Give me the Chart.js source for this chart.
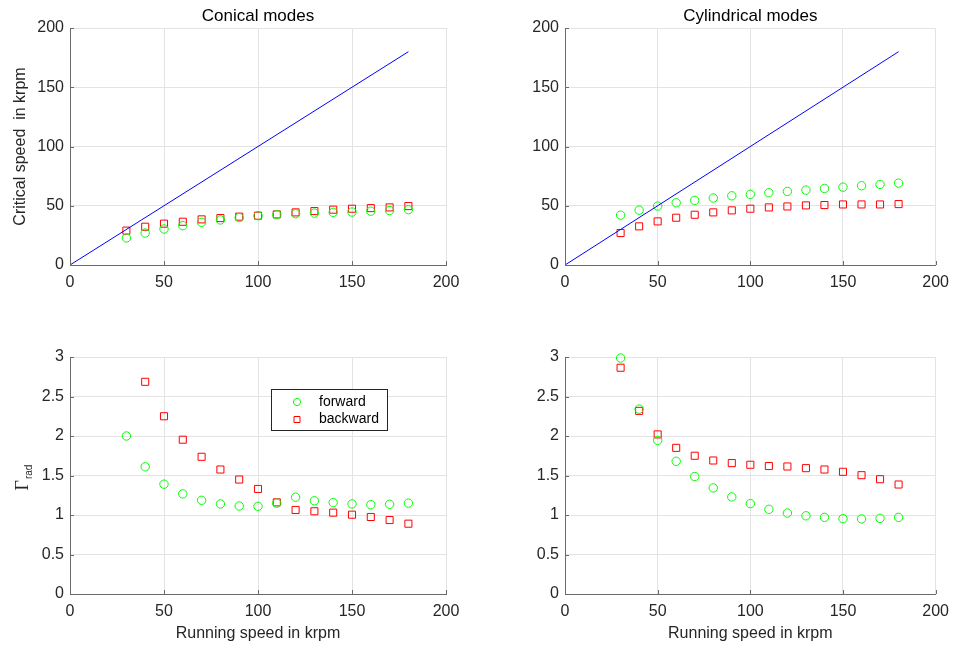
<!DOCTYPE html>
<html>
<head>
<meta charset="utf-8">
<script src="https://cdn.jsdelivr.net/npm/chart.js@4/dist/chart.umd.min.js"></script>
<style>
  body { margin: 0; background: #fff; width: 957px; height: 646px; overflow: hidden; position: relative; }
  canvas { position: absolute; }
</style>
</head>
<body>
<canvas id="conicalSpeed" width="478" height="323" style="left:0;top:0"></canvas>
<canvas id="cylSpeed" width="479" height="323" style="left:478px;top:0"></canvas>
<canvas id="conicalGamma" width="478" height="323" style="left:0;top:323px"></canvas>
<canvas id="cylGamma" width="479" height="323" style="left:478px;top:323px"></canvas>
<script>
// running speeds (krpm)
var speeds = [30, 40, 50, 60, 70, 80, 90, 100, 110, 120, 130, 140, 150, 160, 170, 180];

// critical speeds, krpm
var conicalForward  = [22.8, 27.0, 30.4, 33.2, 36.0, 38.0, 40.0, 41.6, 42.4, 43.3, 43.8, 44.4, 44.7, 45.4, 46.0, 46.7];
var conicalBackward = [29.0, 32.3, 34.9, 36.5, 38.5, 39.6, 40.8, 41.6, 42.7, 44.4, 45.5, 46.7, 47.5, 48.0, 48.6, 49.7];
var cylForward  = [42.1, 46.3, 49.7, 52.5, 54.5, 56.5, 58.4, 59.6, 61.0, 62.1, 63.2, 64.6, 65.7, 66.9, 68.0, 69.1];
var cylBackward = [27.0, 32.6, 36.8, 39.9, 42.4, 44.4, 46.1, 47.5, 48.6, 49.4, 50.3, 50.6, 51.1, 51.1, 51.1, 51.4];

// Gamma_rad
var gammaConicalForward  = [2.0, 1.61, 1.39, 1.267, 1.186, 1.14, 1.114, 1.11, 1.15, 1.225, 1.18, 1.157, 1.14, 1.13, 1.136, 1.15];
var gammaConicalBackward = [null, 2.686, 2.25, 1.953, 1.737, 1.576, 1.449, 1.33, 1.16, 1.064, 1.047, 1.03, 1.004, 0.975, 0.936, 0.89];
var gammaCylForward  = [2.987, 2.34, 1.945, 1.68, 1.487, 1.343, 1.229, 1.144, 1.072, 1.025, 0.99, 0.97, 0.953, 0.95, 0.958, 0.97];
var gammaCylBackward = [2.864, 2.318, 2.02, 1.85, 1.75, 1.69, 1.657, 1.636, 1.62, 1.614, 1.593, 1.576, 1.547, 1.504, 1.453, 1.386];

// synchronous line (running speed = critical speed)
var syncX = [0, 180];
var syncY = [0, 180];

// tick values
var xTicks = [0, 50, 100, 150, 200];
var speedTicks = [0, 50, 100, 150, 200];
var gammaTicks = [0, 0.5, 1, 1.5, 2, 2.5, 3];

var textColor = '#262626';
var axisColor = '#6a6a6a';
var gridColor = '#e3e3e3';
var fontFamily = '"Liberation Sans", Arial, Helvetica, sans-serif';
Chart.defaults.font.family = fontFamily;
Chart.defaults.color = textColor;

function toPoints(xs, ys) {
  return xs.map(function (x, i) { return { x: x, y: ys[i] }; }).filter(function (p) { return p.y != null; });
}

function forwardSet(ys) {
  return { label: 'forward', data: toPoints(speeds, ys), pointStyle: 'circle', pointRadius: 4.2,
    borderColor: '#00ff00', backgroundColor: 'rgba(0,0,0,0)', borderWidth: 1, showLine: false, clip: false };
}
function backwardSet(ys) {
  return { label: 'backward', data: toPoints(speeds, ys), pointStyle: 'rect', pointRadius: 5,
    borderColor: '#ff0000', backgroundColor: 'rgba(0,0,0,0)', borderWidth: 1, showLine: false, clip: false };
}
function syncSet() {
  return { label: 'sync', data: toPoints(syncX, syncY), showLine: true, borderColor: '#0000ff',
    borderWidth: 1, pointRadius: 0, fill: false };
}

// titles, inward ticks, Gamma label and legend
var frame = {
  id: 'frame',
  afterDraw: function (chart) {
    var o = chart.options.plugins.frame;
    var ctx = chart.ctx, area = chart.chartArea;
    var xs = chart.scales.x, ys = chart.scales.y;
    ctx.save();
    ctx.strokeStyle = axisColor;
    ctx.lineWidth = 1;
    ctx.beginPath();
    xs.ticks.forEach(function (t) {
      var px = Math.round(xs.getPixelForValue(t.value)) + 0.5;
      ctx.moveTo(px, area.bottom); ctx.lineTo(px, area.bottom - 4);
    });
    ys.ticks.forEach(function (t) {
      var py = Math.round(ys.getPixelForValue(t.value)) + 0.5;
      ctx.moveTo(area.left, py); ctx.lineTo(area.left + 4, py);
    });
    ctx.stroke();

    ctx.fillStyle = '#000';
    if (o.title) {
      ctx.font = '17px ' + fontFamily;
      ctx.textAlign = 'center';
      ctx.textBaseline = 'middle';
      ctx.fillText(o.title, (area.left + area.right) / 2, 16);
    }

    if (o.gammaLabel) {
      var serif = '18px "Liberation Serif", "Times New Roman", serif';
      var sub = '10px ' + fontFamily;
      ctx.fillStyle = textColor;
      ctx.translate(28, 155);
      ctx.rotate(-Math.PI / 2);
      ctx.textAlign = 'left';
      ctx.textBaseline = 'alphabetic';
      ctx.font = serif;
      var wG = ctx.measureText('\u0393').width;
      ctx.font = sub;
      var wR = ctx.measureText('rad').width;
      var u0 = -(wG + wR) / 2;
      ctx.font = serif;
      ctx.fillText('\u0393', u0, 0);
      ctx.font = sub;
      ctx.fillText('rad', u0 + wG + 1, 4);
      ctx.setTransform(1, 0, 0, 1, 0, 0);
    }

    if (o.legend) {
      var b = o.legend;
      ctx.fillStyle = '#fff';
      ctx.fillRect(b.x, b.y, b.w, b.h);
      ctx.strokeStyle = '#262626';
      ctx.strokeRect(b.x + 0.5, b.y + 0.5, b.w, b.h);
      ctx.font = '14px ' + fontFamily;
      ctx.textAlign = 'left';
      ctx.textBaseline = 'middle';
      chart.data.datasets.forEach(function (ds, i) {
        if (ds.label === 'sync') return;
        var cy = b.y + 13 + i * 17.5;
        var cx = b.x + 26;
        ctx.strokeStyle = ds.borderColor;
        ctx.beginPath();
        if (ds.pointStyle === 'circle') {
          ctx.arc(cx, cy, 3.6, 0, Math.PI * 2);
        } else {
          ctx.rect(cx - 3, cy - 3, 6, 6);
        }
        ctx.stroke();
        ctx.fillStyle = '#000';
        ctx.fillText(ds.label, b.x + 48, cy);
      });
    }
    ctx.restore();
  }
};

function plainNumber(v) { return String(v); }

function makeChart(id, box, datasets, yTicks, yMax, extra) {
  var canvas = document.getElementById(id);
  var W = canvas.width, H = canvas.height;
  return new Chart(canvas, {
    type: 'scatter',
    data: { datasets: datasets },
    options: {
      responsive: false,
      animation: false,
      devicePixelRatio: 1,
      layout: { padding: { left: 0, top: box.top, right: W - box.right, bottom: 0 } },
      plugins: {
        legend: { display: false },
        tooltip: { enabled: false },
        frame: extra
      },
      scales: {
        x: {
          type: 'linear', min: 0, max: 200,
          afterBuildTicks: function (s) { s.ticks = xTicks.map(function (v) { return { value: v }; }); },
          afterFit: function (s) { s.height = H - box.bottom; },
          ticks: { color: textColor, font: { size: 16 }, padding: 8, maxRotation: 0, callback: plainNumber },
          grid: { color: gridColor, drawTicks: false },
          border: { color: axisColor },
          title: {
            display: !!extra.xTitle, text: extra.xTitle || '', color: textColor,
            font: { size: 16 }, padding: { top: 0, bottom: 3 }
          }
        },
        y: {
          type: 'linear', min: 0, max: yMax,
          afterBuildTicks: function (s) { s.ticks = yTicks.map(function (v) { return { value: v }; }); },
          afterFit: function (s) { s.width = box.left; },
          ticks: { color: textColor, font: { size: 16 }, padding: 6, callback: plainNumber },
          grid: { color: gridColor, drawTicks: false },
          border: { color: axisColor },
          title: {
            display: !!extra.yTitle, text: extra.yTitle || '', color: textColor,
            font: { size: 16 }, padding: { top: 11, bottom: 0 }
          }
        }
      }
    },
    plugins: [frame]
  });
}

makeChart('conicalSpeed', { left: 70, top: 28, right: 446, bottom: 265 },
  [syncSet(), forwardSet(conicalForward), backwardSet(conicalBackward)], speedTicks, 200,
  { title: 'Conical modes', yTitle: 'Critical speed  in krpm' });

makeChart('cylSpeed', { left: 87, top: 28, right: 463, bottom: 265 },
  [syncSet(), forwardSet(cylForward), backwardSet(cylBackward)], speedTicks, 200,
  { title: 'Cylindrical modes' });

makeChart('conicalGamma', { left: 70, top: 34, right: 446, bottom: 271 },
  [forwardSet(gammaConicalForward), backwardSet(gammaConicalBackward)], gammaTicks, 3,
  { xTitle: 'Running speed in krpm', gammaLabel: true, legend: { x: 271, y: 66, w: 116, h: 41 } });

makeChart('cylGamma', { left: 87, top: 34, right: 463, bottom: 271 },
  [forwardSet(gammaCylForward), backwardSet(gammaCylBackward)], gammaTicks, 3,
  { xTitle: 'Running speed in krpm' });
</script>
</body>
</html>
